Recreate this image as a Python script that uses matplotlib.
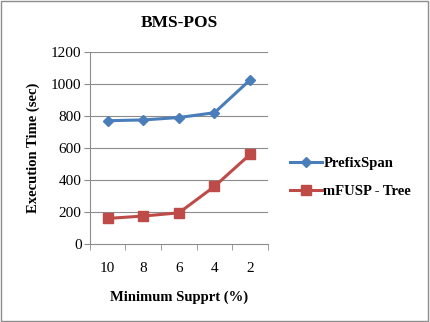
import numpy as np
import matplotlib.pyplot as plt
from matplotlib.patches import Rectangle

support = ['10', '8', '6', '4', '2']
prefixspan = [770, 775, 790, 820, 1025]
mfusp_tree = [160, 175, 195, 360, 560]
yticks = [0, 200, 400, 600, 800, 1000, 1200]

plt.rcParams['font.family'] = ['Liberation Serif', 'DejaVu Serif']

fig = plt.figure(figsize=(4.3, 3.22), dpi=100)
ax = fig.add_axes([0.209, 0.242, 0.414, 0.597])

x = np.arange(len(support))
grid_col = '#8c8c8c'
for v in yticks[1:]:
    ax.axhline(v, color=grid_col, lw=0.8, zorder=1)

ax.plot(x, prefixspan, color='#4a7ebb', lw=2.2, marker='D', ms=5.5,
        label='PrefixSpan', zorder=3)
ax.plot(x, mfusp_tree, color='#be4b48', lw=2.2, marker='s', ms=7.5,
        label='mFUSP - Tree', zorder=3)

ax.set_xlim(-0.5, len(support) - 0.5)
ax.set_ylim(0, 1200)
ax.set_yticks(yticks)
ax.set_xticks(x)
ax.set_xticklabels(support, fontsize=11)
ax.set_xticks(np.arange(-0.5, len(support)), minor=True)
ax.tick_params(axis='x', which='major', length=0, pad=13)
ax.tick_params(axis='x', which='minor', length=4, color=grid_col, direction='out')
ax.tick_params(axis='y', length=4, color=grid_col, labelsize=11, pad=2)

for s in ['top', 'right']:
    ax.spines[s].set_visible(False)
ax.spines['left'].set_color(grid_col)
ax.spines['bottom'].set_color(grid_col)

ax.set_title('BMS-POS', fontsize=12.5, fontweight='bold', pad=18)
ax.set_xlabel('Minimum Supprt (%)', fontsize=10.5, fontweight='bold', labelpad=11)
ax.set_ylabel('Execution Time (sec)', fontsize=10.5, fontweight='bold', labelpad=8)

ax.legend(loc='center left', bbox_to_anchor=(1.05, 0.345), frameon=False,
          prop={'weight': 'bold', 'size': 10.5}, handlelength=2.2,
          handletextpad=0.1, labelspacing=1.0)

fig.patches.append(Rectangle((0.002, 0.003), 0.994, 0.994, transform=fig.transFigure,
                             fill=False, edgecolor='#8c8c8c', lw=1))

fig.savefig('out.png', dpi=100)
